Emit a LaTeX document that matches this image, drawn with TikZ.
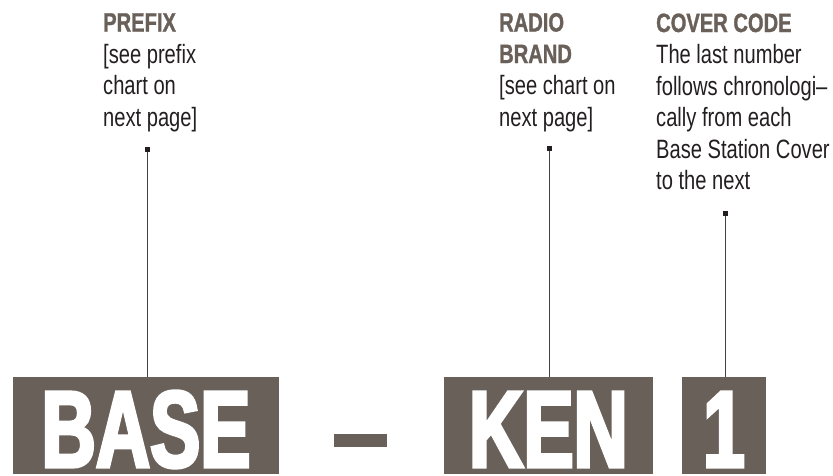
\documentclass[tikz,border=0pt]{standalone}
\usepackage{fontspec}
\setmainfont{Liberation Sans}
\newfontfamily\labf[FakeStretch=0.76]{Liberation Sans}
\newfontfamily\headf[FakeStretch=0.76,FakeBold=1.2]{Liberation Sans Bold}
\newfontfamily\bigf[FakeStretch=0.69,FakeBold=3]{Liberation Sans Bold}
\definecolor{boxc}{RGB}{106,96,90}
\definecolor{txt}{RGB}{35,31,32}
\begin{document}
\begin{tikzpicture}[x=1pt,y=-1pt,
  codebox/.style={fill=boxc, inner sep=0pt, minimum height=97pt, text=white,
    font=\bigf\fontsize{109}{109}\selectfont, text height=83pt, text depth=0pt},
  lab/.style={anchor=base west, inner sep=0pt, align=left, text=txt,
    font=\labf\fontsize{26.5}{31.5}\selectfont},
  marker/.style={fill=txt, inner sep=0pt, minimum size=5pt},
  leader/.style={draw=txt!85, line width=1pt}]
\useasboundingbox (0,0) rectangle (833,475);
\newcommand\hd[1]{{\headf\color{boxc}#1}}
% code boxes
\node[codebox, minimum width=266pt] (base) at (146,425.5) {BASE};
\node[fill=boxc, inner sep=0pt, minimum width=53pt, minimum height=13pt] (dash) at (360.5,440.5) {};
\node[codebox, minimum width=209pt] (ken) at (548.5,425.5) {KEN};
\node[codebox, minimum width=84pt] (one) at (724,425.5) {1};
% labels (anchored at the baseline of their last line)
\node[lab] (prefix) at (103,126) {\hd{PREFIX}\\{[}see prefix\\chart on\\next page]};
\node[lab] (brand) at (499,126) {\hd{RADIO}\\\hd{BRAND}\\{[}see chart on\\next page]};
\node[lab] (cover) at (656,189.5) {\hd{COVER CODE}\\The last number\\follows chronologi–\\cally from each\\Base Station Cover\\to the next};
% markers and leaders
\node[marker] (m1) at (147,149.5) {};
\node[marker] (m2) at (549.5,148.5) {};
\node[marker] (m3) at (725,213.5) {};
\draw[leader] (m1) -- (m1 |- base.north);
\draw[leader] (m2) -- (m2 |- ken.north);
\draw[leader] (m3) -- (m3 |- one.north);
\end{tikzpicture}
\end{document}
